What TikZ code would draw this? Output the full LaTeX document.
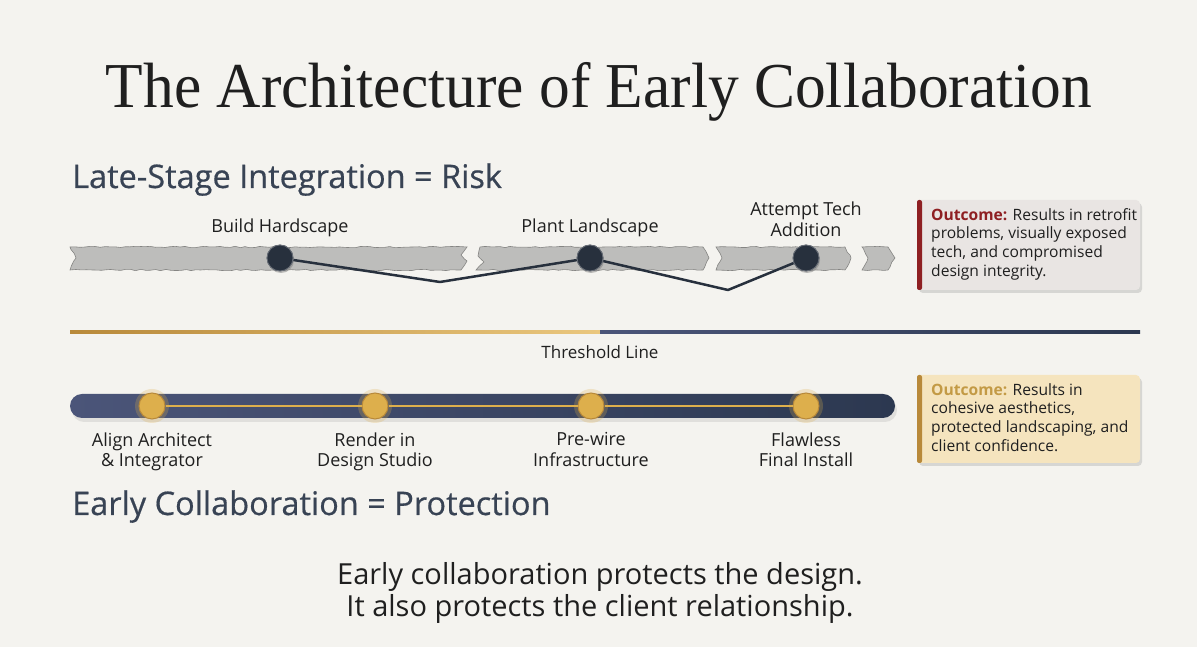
\documentclass[tikz,border=0pt]{standalone}
\usepackage{fontspec}
\setsansfont{Open Sans}
\newfontfamily\titelschrift{Liberation Serif}
\newfontfamily\kopfschrift[FakeBold=0.5]{Open Sans}
\usetikzlibrary{shadows, decorations.pathmorphing, positioning}
\definecolor{papier}{HTML}{F4F3EF}
\definecolor{schiefer}{HTML}{384354}
\definecolor{tinte}{HTML}{1F1F1F}
\definecolor{riss}{HTML}{BDBDBB}
\definecolor{rissrand}{HTML}{858583}
\definecolor{knoten}{HTML}{27303D}
\definecolor{rot}{HTML}{8E1F22}
\definecolor{rotbox}{HTML}{E9E5E3}
\definecolor{gold}{HTML}{DDAF4C}
\definecolor{golddunkel}{HTML}{B8893A}
\definecolor{goldhell}{HTML}{EAC77E}
\definecolor{goldbox}{HTML}{F5E4BE}
\definecolor{goldtext}{HTML}{C39A45}
\definecolor{navyl}{HTML}{4B5579}
\definecolor{navyr}{HTML}{2C3850}
\begin{document}
\begin{tikzpicture}[x=1pt, y=1pt,
		stufe/.style={circle, minimum size=26pt, inner sep=0pt, fill=knoten, draw=knoten!70!white, line width=.8pt, drop shadow={opacity=.3, shadow xshift=1pt, shadow yshift=-2pt}},
		goldstufe/.style={circle, minimum size=26pt, inner sep=0pt, fill=gold, draw=golddunkel, line width=1pt},
		etikett/.style={font=\sffamily\fontsize{18}{20.5}\selectfont, align=center, text=tinte, inner sep=1pt},
		kopf/.style={font=\kopfschrift\fontsize{32.5}{38}\selectfont, text=schiefer, anchor=base west, inner sep=0pt},
		fazit/.style={align=left, inner sep=0pt, font=\sffamily\fontsize{15.6}{18.8}\selectfont, text=tinte, anchor=north west},
		riss/.style={fill=riss, draw=rissrand, line width=.6pt, decorate, decoration={random steps, segment length=5pt, amplitude=.7pt}},
		font=\sffamily]
		%Hintergrund
		\useasboundingbox (0,0) rectangle (1197,647);
		\fill[papier] (0,0) rectangle (1197,647);
		% Titel
		\node[anchor=base, font=\titelschrift\fontsize{64}{74}\selectfont, text=tinte] (titel) at (599,539) {\scalebox{0.96}[1]{The Architecture of Early Collaboration}};
		\node[kopf] (spaet) at (72,459) {Late-Stage Integration = Risk};
		% zerrissene Leiste
		\pgfmathsetseed{7}
		\path[riss] (70,400) -- (467,400) -- (461,392) -- (467,386) -- (461,377) -- (70,377) -- (76,389) -- cycle;
		\path[riss] (480,400) -- (703,400) -- (709,389) -- (703,377) -- (476,377) -- (484,385) -- (478,391) -- cycle;
		\path[riss] (716,400) -- (845,400) -- (851,389) -- (845,377) -- (716,377) -- (722,389) -- cycle;
		\path[riss] (862,400) -- (888,400) -- (895,389) -- (888,377) -- (862,377) -- (868,389) -- cycle;
		% Zickzack
		\coordinate (knick1) at (440,365);
		\coordinate (knick2) at (728,357);
		\node[stufe] (hard) at (280,389) {};
		\node[stufe] (plant) at (590,389) {};
		\node[stufe] (tech) at (806,389) {};
		\draw[knoten, line width=2.5pt, line join=round] (hard) -- (knick1) -- (plant) -- (knick2) -- (tech);
		\node[stufe] at (hard) {};
		\node[stufe] at (plant) {};
		\node[stufe] at (tech) {};
		\node[etikett, above=7pt of hard] (hardtxt) {Build Hardscape};
		\node[etikett, above=7pt of plant] (planttxt) {Plant Landscape};
		\node[etikett, above=7pt of tech] (techtxt) {Attempt Tech\\Addition};
		% Ergebnis rot
		\path[fill=rotbox, rounded corners=4pt, drop shadow={opacity=.25, shadow xshift=2pt, shadow yshift=-3pt}] (917,357) rectangle (1140,447);
		\fill[rot, rounded corners=2pt] (917,357) rectangle (922,447);
		\node[fazit] (risiko) at (931,439) {\textcolor{rot}{\textbf{Outcome:}} Results in retrofit\\problems, visually exposed\\tech, and compromised\\design integrity.};
		% Schwelle
		\shade[left color=golddunkel, right color=goldhell] (70,313.5) rectangle (600,316.5);
		\shade[left color=navyl, right color=navyr] (600,313.5) rectangle (1140,316.5);
		\node[etikett, font=\sffamily\fontsize{17}{19}\selectfont] (schwelle) at (600,295) {Threshold Line};
		% Leiste unten
		\fill[black, opacity=.08, rounded corners=12pt] (72,225) rectangle (897,249);
		\shade[left color=navyl, right color=navyr, rounded corners=12pt] (70,229) rectangle (895,253);
		\foreach \x/\n in {152/align, 375/render, 591/prewire, 806/install} {
			\fill[gold, opacity=.25] (\x,241) circle (17);
			\node[goldstufe] (\n) at (\x,241) {};
		}
		\draw[gold, line width=2pt] (align) -- (render) -- (prewire) -- (install);
		\node[etikett, below=12pt of align] (aligntxt) {Align Architect\\\& Integrator};
		\node[etikett, below=12pt of render] (rendertxt) {Render in\\Design Studio};
		\node[etikett, below=12pt of prewire] (prewiretxt) {Pre-wire\\Infrastructure};
		\node[etikett, below=12pt of install] (installtxt) {Flawless\\Final Install};
		% Ergebnis gold
		\path[fill=goldbox, rounded corners=4pt, drop shadow={opacity=.25, shadow xshift=2pt, shadow yshift=-3pt}] (917,184) rectangle (1140,272);
		\fill[golddunkel, rounded corners=2pt] (917,184) rectangle (922,272);
		\node[fazit] (schutz) at (931,264) {\textcolor{goldtext}{\textbf{Outcome:}} Results in\\cohesive aesthetics,\\protected landscaping, and\\client confidence.};
		\node[kopf] (frueh) at (72,132) {Early Collaboration = Protection};
		% Schluss
		\node[font=\sffamily\fontsize{29}{32}\selectfont, align=center, text=tinte] (schluss) at (600,54) {Early collaboration protects the design.\\It also protects the client relationship.};
	\end{tikzpicture}
\end{document}
